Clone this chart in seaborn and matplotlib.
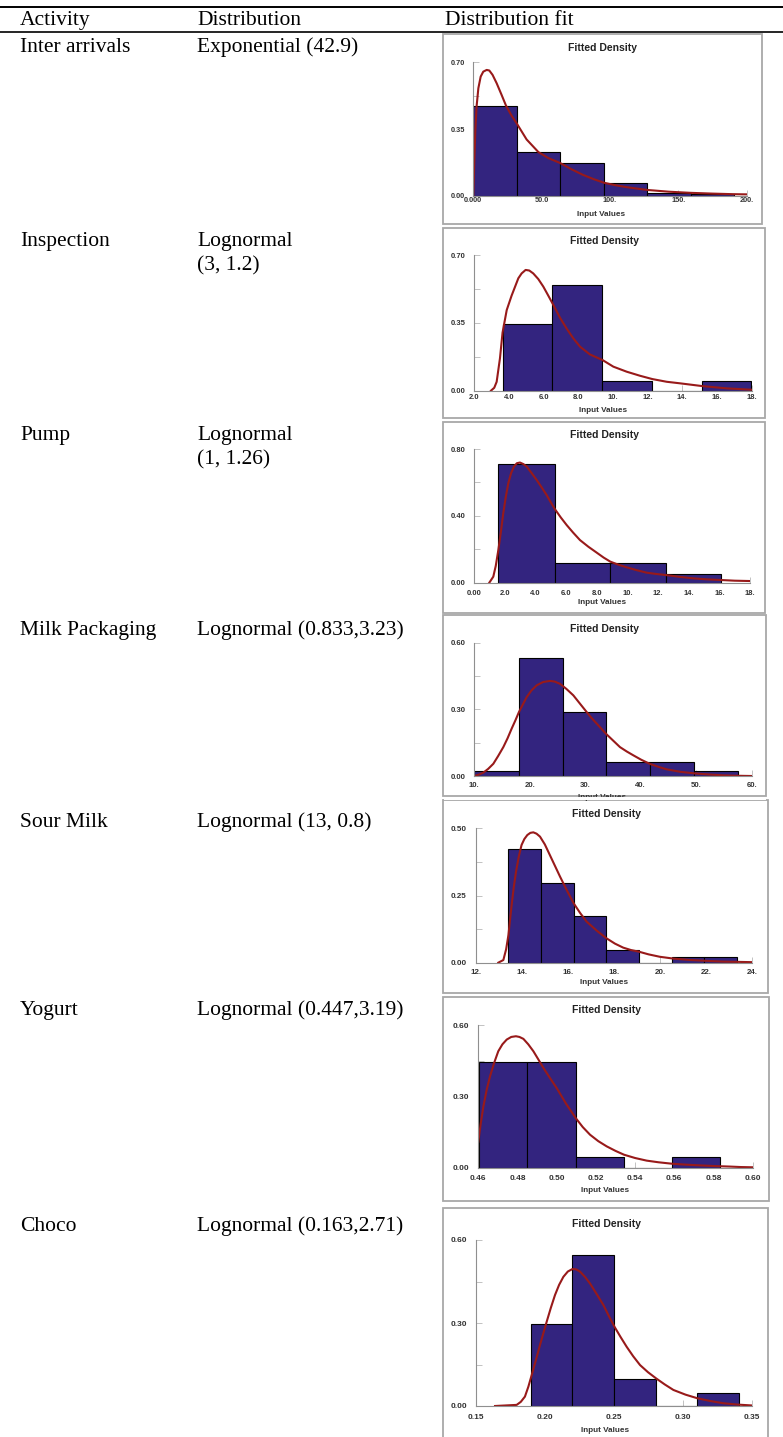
import numpy as np
import pandas as pd
import matplotlib
matplotlib.use("Agg")
import matplotlib.pyplot as plt
from matplotlib.patches import Rectangle
from matplotlib.lines import Line2D
import seaborn as sns

# ---------------- data ----------------
headers = ["Activity", "Distribution", "Distribution fit"]
activities = ["Inter arrivals", "Inspection", "Pump", "Milk Packaging",
              "Sour Milk", "Yogurt", "Choco"]
distributions = ["Exponential (42.9)", "Lognormal\n(3, 1.2)", "Lognormal\n(1, 1.26)",
                 "Lognormal (0.833,3.23)", "Lognormal (13, 0.8)",
                 "Lognormal (0.447,3.19)", "Lognormal (0.163,2.71)"]

# histogram bin edges and relative frequencies
inter_edges = [0.0, 31.8, 63.6, 95.4, 127.2, 159.0, 190.8]
inter_freq = [0.473, 0.229, 0.172, 0.068, 0.016, 0.011]
insp_edges = [3.63, 6.50, 9.37, 12.24, 15.11, 17.98]
insp_freq = [0.346, 0.547, 0.048, 0.0, 0.048]
pump_edges = [1.57, 5.27, 8.88, 12.49, 16.11]
pump_freq = [0.709, 0.116, 0.116, 0.054]
milk_edges = [10.0, 18.05, 25.93, 33.74, 41.6, 49.6, 57.5]
milk_freq = [0.021, 0.532, 0.288, 0.063, 0.063, 0.021]
sour_edges = [13.42, 14.83, 16.25, 17.67, 19.08, 20.50, 21.90, 23.32]
sour_freq = [0.424, 0.298, 0.174, 0.048, 0.0, 0.020, 0.020]
yog_edges = [0.4605, 0.4850, 0.5097, 0.5343, 0.5588, 0.5833]
yog_freq = [0.446, 0.446, 0.045, 0.0, 0.045]
choco_edges = [0.1897, 0.2199, 0.2504, 0.2806, 0.3106, 0.3408]
choco_freq = [0.298, 0.546, 0.099, 0.0, 0.046]

# fitted density curves
inter_cx = [0.0, 0.7, 1.5, 2.4, 3.7, 5.4, 7.3, 9.8, 11.7, 14.1, 17.1, 20.7, 23.9, 28.0,
            31.7, 39.0, 47.6, 55.0, 63.4, 71.5, 80.0, 88.0, 95.6, 104.0, 112.0, 120.0,
            127.6, 143.0, 159.0, 175.0, 190.0, 200.0]
inter_cy = [0.0, 0.17, 0.345, 0.468, 0.564, 0.625, 0.651, 0.66, 0.657, 0.634, 0.59,
            0.529, 0.473, 0.42, 0.38, 0.295, 0.229, 0.197, 0.172, 0.14, 0.11, 0.087,
            0.068, 0.055, 0.045, 0.037, 0.030, 0.021, 0.015, 0.011, 0.008, 0.007]
insp_cx = [2.96, 3.15, 3.29, 3.48, 3.63, 3.87, 4.15, 4.54, 4.73, 4.96, 5.17, 5.40,
           5.69, 5.98, 6.27, 6.56, 6.94, 7.33, 7.71, 8.10, 8.67, 9.40, 10.02, 10.79,
           11.56, 12.27, 13.10, 13.87, 15.13, 16.56, 18.0]
insp_cy = [0.0, 0.015, 0.046, 0.167, 0.30, 0.416, 0.49, 0.58, 0.605, 0.623, 0.62,
           0.605, 0.576, 0.537, 0.49, 0.442, 0.377, 0.32, 0.27, 0.227, 0.187, 0.158,
           0.124, 0.098, 0.077, 0.060, 0.046, 0.038, 0.024, 0.012, 0.005]
pump_cx = [0.98, 1.24, 1.40, 1.57, 1.73, 1.89, 2.05, 2.22, 2.40, 2.59, 2.78, 2.98,
           3.20, 3.42, 3.75, 4.07, 4.40, 4.72, 5.00, 5.27, 5.65, 6.03, 6.45, 6.90,
           7.45, 7.99, 8.45, 8.88, 9.40, 9.95, 10.6, 11.25, 11.9, 12.49, 13.4, 14.3,
           15.2, 16.11, 17.0, 18.0]
pump_cy = [0.0, 0.036, 0.10, 0.196, 0.30, 0.415, 0.51, 0.595, 0.655, 0.695, 0.715,
           0.719, 0.71, 0.695, 0.655, 0.615, 0.57, 0.525, 0.48, 0.439, 0.39, 0.345,
           0.30, 0.255, 0.215, 0.18, 0.15, 0.126, 0.108, 0.092, 0.075, 0.060, 0.052,
           0.046, 0.035, 0.026, 0.020, 0.016, 0.012, 0.010]
milk_cx = [10.0, 10.8, 11.62, 12.5, 13.43, 14.3, 15.23, 16.0, 16.73, 17.4, 18.05,
           18.75, 19.44, 20.3, 21.24, 22.4, 23.64, 24.5, 25.44, 26.6, 27.85, 29.0,
           30.25, 31.1, 32.06, 32.9, 33.74, 35.0, 36.26, 37.5, 38.67, 40.1, 41.6,
           43.1, 44.68, 47.1, 49.6, 52.2, 54.9, 57.5, 60.0]
milk_cy = [0.0, 0.006, 0.015, 0.032, 0.055, 0.09, 0.13, 0.17, 0.213, 0.25, 0.288,
           0.322, 0.355, 0.385, 0.408, 0.423, 0.428, 0.425, 0.415, 0.392, 0.363,
           0.327, 0.288, 0.262, 0.236, 0.213, 0.19, 0.16, 0.13, 0.11, 0.093, 0.073,
           0.055, 0.042, 0.030, 0.019, 0.012, 0.007, 0.003, 0.001, 0.0]
sour_cx = [12.98, 13.2, 13.32, 13.42, 13.49, 13.56, 13.65, 13.75, 13.87, 13.99, 14.11,
           14.24, 14.37, 14.5, 14.64, 14.79, 15.0, 15.22, 15.44, 15.66, 15.95, 16.25,
           16.53, 16.81, 17.24, 17.67, 18.04, 18.40, 18.74, 19.08, 19.5, 19.99, 20.6,
           21.3, 22.0, 22.74, 23.4, 24.0]
sour_cy = [0.0, 0.01, 0.05, 0.103, 0.16, 0.215, 0.28, 0.339, 0.395, 0.438, 0.46,
           0.475, 0.483, 0.485, 0.48, 0.469, 0.44, 0.40, 0.36, 0.32, 0.27, 0.221,
           0.185, 0.153, 0.12, 0.091, 0.071, 0.056, 0.047, 0.041, 0.031, 0.022, 0.015,
           0.010, 0.007, 0.004, 0.003, 0.002]
yog_cx = [0.4600, 0.4613, 0.4626, 0.4643, 0.4660, 0.4680, 0.4702, 0.4723, 0.4745,
          0.4768, 0.4792, 0.4810, 0.4830, 0.4855, 0.4881, 0.4906, 0.4932, 0.4966,
          0.5000, 0.5048, 0.5097, 0.5133, 0.5170, 0.5212, 0.5255, 0.5300, 0.5343,
          0.5400, 0.5459, 0.5520, 0.5588, 0.5660, 0.5731, 0.5810, 0.5884, 0.5940,
          0.6000]
yog_cy = [0.11, 0.19, 0.259, 0.33, 0.386, 0.44, 0.491, 0.52, 0.54, 0.551, 0.554,
          0.551, 0.543, 0.52, 0.491, 0.457, 0.421, 0.378, 0.336, 0.27, 0.21, 0.172,
          0.14, 0.113, 0.091, 0.072, 0.056, 0.042, 0.031, 0.024, 0.018, 0.014, 0.011,
          0.008, 0.006, 0.004, 0.003]
choco_cx = [0.1638, 0.1795, 0.1825, 0.1855, 0.1880, 0.1904, 0.1934, 0.1964, 0.1988,
            0.2013, 0.2043, 0.2073, 0.2103, 0.2134, 0.2166, 0.2199, 0.2226, 0.2254,
            0.2290, 0.2327, 0.2375, 0.2424, 0.2464, 0.2504, 0.2548, 0.2593, 0.2640,
            0.2690, 0.2748, 0.2806, 0.2869, 0.2932, 0.3020, 0.3106, 0.3200, 0.3294,
            0.3400, 0.3500]
choco_cy = [0.0, 0.004, 0.015, 0.034, 0.07, 0.112, 0.165, 0.22, 0.262, 0.305, 0.355,
            0.401, 0.438, 0.467, 0.486, 0.495, 0.494, 0.486, 0.467, 0.443, 0.405,
            0.365, 0.325, 0.287, 0.25, 0.214, 0.18, 0.148, 0.122, 0.10, 0.078, 0.058,
            0.041, 0.028, 0.018, 0.010, 0.005, 0.002]

# tick labels
inter_xt = [0, 50, 100, 150, 200]
inter_xl = ["0.000", "50.0", "100.", "150.", "200."]
inter_yt = [0.0, 0.35, 0.70]
inter_yl = ["0.00", "0.35", "0.70"]
insp_xt = [2, 4, 6, 8, 10, 12, 14, 16, 18]
insp_xl = ["2.0", "4.0", "6.0", "8.0", "10.", "12.", "14.", "16.", "18."]
insp_yt = [0.0, 0.35, 0.70]
insp_yl = ["0.00", "0.35", "0.70"]
pump_xt = [0, 2, 4, 6, 8, 10, 12, 14, 16, 18]
pump_xl = ["0.00", "2.0", "4.0", "6.0", "8.0", "10.", "12.", "14.", "16.", "18."]
pump_yt = [0.0, 0.40, 0.80]
pump_yl = ["0.00", "0.40", "0.80"]
milk_xt = [10, 20, 30, 40, 50, 60]
milk_xl = ["10.", "20.", "30.", "40.", "50.", "60."]
milk_yt = [0.0, 0.30, 0.60]
milk_yl = ["0.00", "0.30", "0.60"]
sour_xt = [12, 14, 16, 18, 20, 22, 24]
sour_xl = ["12.", "14.", "16.", "18.", "20.", "22.", "24."]
sour_yt = [0.0, 0.25, 0.50]
sour_yl = ["0.00", "0.25", "0.50"]
yog_xt = [0.46, 0.48, 0.50, 0.52, 0.54, 0.56, 0.58, 0.60]
yog_xl = ["0.46", "0.48", "0.50", "0.52", "0.54", "0.56", "0.58", "0.60"]
yog_yt = [0.0, 0.30, 0.60]
yog_yl = ["0.00", "0.30", "0.60"]
choco_xt = [0.15, 0.20, 0.25, 0.30, 0.35]
choco_xl = ["0.15", "0.20", "0.25", "0.30", "0.35"]
choco_yt = [0.0, 0.30, 0.60]
choco_yl = ["0.00", "0.30", "0.60"]

panels = [
    (inter_edges, inter_freq, inter_cx, inter_cy, inter_xt, inter_xl, inter_yt, inter_yl),
    (insp_edges, insp_freq, insp_cx, insp_cy, insp_xt, insp_xl, insp_yt, insp_yl),
    (pump_edges, pump_freq, pump_cx, pump_cy, pump_xt, pump_xl, pump_yt, pump_yl),
    (milk_edges, milk_freq, milk_cx, milk_cy, milk_xt, milk_xl, milk_yt, milk_yl),
    (sour_edges, sour_freq, sour_cx, sour_cy, sour_xt, sour_xl, sour_yt, sour_yl),
    (yog_edges, yog_freq, yog_cx, yog_cy, yog_xt, yog_xl, yog_yt, yog_yl),
    (choco_edges, choco_freq, choco_cx, choco_cy, choco_xt, choco_xl, choco_yt, choco_yl),
]

# ---------------- layout (pixels) ----------------
W, H = 783, 1437
axes_px = [(473.3, 746.7, 195.7, 62.3),
           (474.3, 751.7, 390.7, 255.0),
           (474.3, 750.0, 582.7, 449.0),
           (474.3, 751.7, 776.0, 642.7),
           (475.7, 752.3, 962.7, 828.3),
           (478.3, 752.7, 1168.0, 1025.3),
           (476.0, 751.7, 1406.0, 1240.0)]
boxes = [(443, 762, 34, 224), (443, 765, 228, 418), (443, 765, 422, 613),
         (443, 766, 615, 796), (443, 768, 800, 993), (443, 769, 997, 1201),
         (443, 768, 1208, 1445)]
title_y = [48, 241, 435, 629, 814, 1010, 1224]
title_x = [603, 605, 604, 604, 606, 607, 607]
xlabel_y = [215, 410, 602, 797, 983, 1190, 1430]
xpad_px = [1.0, 3.7, 7.0, 6.0, 6.0, 7.0, 7.7]
ypad_px = [8.3, 8.5, 8.5, 8.5, 9.0, 9.0, 8.5]
tick_fs = [5.3, 5.5, 5.5, 5.6, 5.8, 6.0, 6.0]
row_base = [[52], [246, 270], [440, 464], [635], [827], [1015], [1231]]
head_base = 25

BAR = "#33247f"
CURVE = "#981a1a"
SPINE = "#8f8f8f"
FRAME = "#a8a8a8"

def fx(px):
    return px / W

def fy(py):
    return 1 - py / H

fig = plt.figure(figsize=(W / 100, H / 100), dpi=100)
fig.patch.set_facecolor("white")

serif = ["Liberation Serif", "DejaVu Serif"]
sans = ["Liberation Sans", "DejaVu Sans"]
TFS = 15.5

for yy, lw in [(7, 1.4), (32, 1.2)]:
    fig.add_artist(Line2D([0, 1], [fy(yy), fy(yy)], transform=fig.transFigure,
                          color="black", lw=lw))

head_x = [20, 197, 445]
for hx, txt in zip(head_x, headers):
    fig.text(fx(hx), fy(head_base), txt, family=serif, fontsize=TFS,
             va="baseline", ha="left")

for i, (act, dist) in enumerate(zip(activities, distributions)):
    fig.text(fx(20), fy(row_base[i][0]), act, family=serif, fontsize=TFS,
             va="baseline", ha="left")
    for j, line in enumerate(dist.split("\n")):
        fig.text(fx(197), fy(row_base[i][j]), line, family=serif, fontsize=TFS,
                 va="baseline", ha="left")

for i, (edges, freq, cx, cy, xt, xl, yt, yl) in enumerate(panels):
    L, R, y0, yt_px = axes_px[i]
    ax = fig.add_axes([fx(L), fy(y0), (R - L) / W, (y0 - yt_px) / H])
    ax.set_facecolor("white")
    ax.set_axisbelow(True)
    centers = [(a + b) / 2 for a, b in zip(edges[:-1], edges[1:])]
    df = pd.DataFrame({"x": centers, "w": freq})
    sns.histplot(data=df, x="x", weights="w", bins=edges, stat="count", ax=ax,
                 color=BAR, edgecolor="black", linewidth=0.8, alpha=1.0)
    cdf = pd.DataFrame({"x": cx, "y": cy})
    sns.lineplot(data=cdf, x="x", y="y", ax=ax, color=CURVE, lw=1.5,
                 estimator=None, sort=False)
    ax.set_xlim(xt[0], xt[-1])
    ax.set_ylim(yt[0], yt[-1])
    ax.set_xticks(xt)
    ax.set_xticklabels(xl)
    ax.set_yticks(yt)
    ax.set_yticklabels(yl)
    ax.set_yticks([(a + b) / 2 for a, b in zip(yt[:-1], yt[1:])], minor=True)
    ax.set_xlabel("")
    ax.set_ylabel("")
    for s in ["top", "right"]:
        ax.spines[s].set_visible(False)
    for s in ["left", "bottom"]:
        ax.spines[s].set_color(SPINE)
        ax.spines[s].set_linewidth(0.8)
    ax.tick_params(axis="both", which="both", direction="in", color="#b8b8b8",
                   length=4, width=0.6, labelsize=tick_fs[i], labelcolor="#333333")
    ax.tick_params(axis="x", pad=xpad_px[i] * 0.72)
    ax.tick_params(axis="y", pad=ypad_px[i] * 0.72)
    for lab in ax.get_xticklabels() + ax.get_yticklabels():
        lab.set_fontweight("bold")
        lab.set_family(sans)
    x0, x1, b0, b1 = boxes[i]
    fig.add_artist(Rectangle((fx(x0), fy(b1)), (x1 - x0) / W, (b1 - b0) / H,
                             transform=fig.transFigure, fill=False,
                             edgecolor=FRAME, lw=1.3))
    fig.text(fx(title_x[i]), fy(title_y[i]), "Fitted Density", family=sans,
             fontsize=7.5, fontweight="bold", ha="center", va="center", color="#222222")
    fig.text(fx(title_x[i] - 2), fy(xlabel_y[i]), "Input Values", family=sans,
             fontsize=5.9, fontweight="bold", ha="center", va="center", color="#333333")

fig.add_artist(Rectangle((fx(444), fy(799.5)), (766 - 444) / W, 3 / H,
                         transform=fig.transFigure, facecolor="white",
                         edgecolor="none", zorder=5))

fig.savefig("out.png", dpi=100, facecolor="white")
